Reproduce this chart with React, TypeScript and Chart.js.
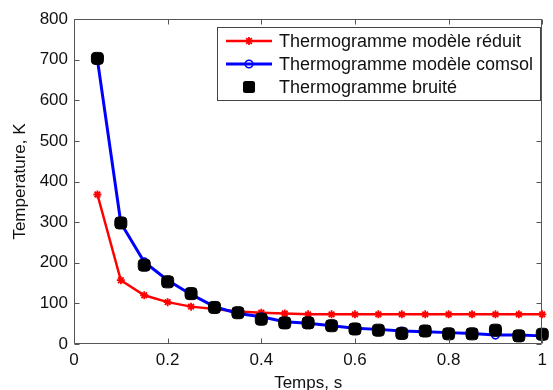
import React, { useEffect, useRef } from "react";
import { Chart, registerables } from "chart.js";

Chart.register(...registerables);

const times = [0.05, 0.1, 0.15, 0.2, 0.25, 0.3, 0.35, 0.4, 0.45, 0.5, 0.55, 0.6, 0.65, 0.7, 0.75, 0.8, 0.85, 0.9, 0.95, 1.0];
const reduit = [368, 157, 120, 103, 92, 86, 80, 77, 75, 73, 73, 73, 73, 73, 73, 73, 73, 73, 73, 73];
const comsol = [700, 298, 202, 157, 122, 92, 75, 67, 55, 51, 45, 39, 36, 32, 30, 28, 26, 22, 22, 20];
const bruite = [703, 298, 194, 153, 124, 90, 77, 61, 52, 52, 45, 37, 34, 26, 32, 25, 25, 34, 20, 24];
const xTicks = [0, 0.2, 0.4, 0.6, 0.8, 1];
const yTicks = [0, 100, 200, 300, 400, 500, 600, 700, 800];
const labels = ["Thermogramme modèle réduit", "Thermogramme modèle comsol", "Thermogramme bruité"];

const FONT = "'Liberation Sans', Arial, sans-serif";

const boxPlugin = {
  id: "boxTicks",
  afterDraw(chart: any) {
    const { ctx, chartArea: a, scales } = chart;
    const x = scales.x;
    const y = scales.y;
    ctx.save();
    ctx.strokeStyle = "#555";
    ctx.lineWidth = 1;
    const L = Math.round(a.left) + 0.5;
    const R = Math.round(a.right) - 0.5;
    const T = Math.round(a.top) + 0.5;
    const B = Math.round(a.bottom) - 0.5;
    ctx.beginPath();
    ctx.rect(L, T, R - L, B - T);
    const len = 5;
    xTicks.forEach((v) => {
      const px = Math.round(x.getPixelForValue(v)) + 0.5;
      ctx.moveTo(px, B);
      ctx.lineTo(px, B - len);
      ctx.moveTo(px, T);
      ctx.lineTo(px, T + len);
    });
    yTicks.forEach((v) => {
      const py = Math.round(y.getPixelForValue(v)) + 0.5;
      ctx.moveTo(L, py);
      ctx.lineTo(L + len, py);
      ctx.moveTo(R, py);
      ctx.lineTo(R - len, py);
    });
    ctx.stroke();
    ctx.restore();
  },
};

function drawMarker(ctx: CanvasRenderingContext2D, style: string, x: number, y: number, r: number) {
  ctx.beginPath();
  if (style === "star") {
    ctx.moveTo(x - r, y);
    ctx.lineTo(x + r, y);
    ctx.moveTo(x, y - r);
    ctx.lineTo(x, y + r);
    const d = r * 0.707;
    ctx.moveTo(x - d, y - d);
    ctx.lineTo(x + d, y + d);
    ctx.moveTo(x - d, y + d);
    ctx.lineTo(x + d, y - d);
    ctx.stroke();
  } else if (style === "circle") {
    ctx.arc(x, y, r, 0, Math.PI * 2);
    ctx.stroke();
  } else {
    const s = r * 0.86;
    const c = 2.5;
    (ctx as any).roundRect ? (ctx as any).roundRect(x - s, y - s, 2 * s, 2 * s, c) : ctx.rect(x - s, y - s, 2 * s, 2 * s);
    ctx.fill();
  }
}

const legendPlugin = {
  id: "customLegend",
  afterDraw(chart: any) {
    const { ctx } = chart;
    const bx = 217.5, by = 27.5, bw = 323, bh = 73;
    ctx.save();
    ctx.fillStyle = "#fff";
    ctx.fillRect(bx, by, bw, bh);
    ctx.strokeStyle = "#444";
    ctx.lineWidth = 1;
    ctx.strokeRect(bx, by, bw, bh);
    const rows = [41, 64, 87];
    const x0 = 226, x1 = 272, xm = 249;
    chart.data.datasets.forEach((ds: any, i: number) => {
      const yy = rows[i];
      if (ds.showLine !== false) {
        ctx.strokeStyle = ds.borderColor;
        ctx.lineWidth = ds.borderWidth;
        ctx.beginPath();
        ctx.moveTo(x0, yy);
        ctx.lineTo(x1, yy);
        ctx.stroke();
      }
      ctx.lineWidth = ds.pointBorderWidth;
      ctx.strokeStyle = ds.pointBorderColor;
      ctx.fillStyle = ds.pointBorderColor;
      drawMarker(ctx, ds.pointStyle, xm, yy, ds.pointRadius);
      ctx.fillStyle = "#111";
      ctx.font = `18px ${FONT}`;
      ctx.textBaseline = "middle";
      ctx.textAlign = "left";
      ctx.fillText(ds.label, 279, yy + 1);
    });
    ctx.restore();
  },
};

export default function App() {
  const ref = useRef<HTMLCanvasElement>(null);
  useEffect(() => {
    if (!ref.current) return;
    const mk = (arr: number[]) => times.map((t, i) => ({ x: t, y: arr[i] }));
    const chart = new Chart(ref.current, {
      type: "line",
      data: {
        datasets: [
          {
            label: labels[0],
            data: mk(reduit),
            borderColor: "#ff0000",
            borderWidth: 2.5,
            pointStyle: "star",
            pointRadius: 4,
            pointBorderWidth: 1.8,
            pointBorderColor: "#ff0000",
            pointBackgroundColor: "#ff0000",
            order: 3,
            clip: false,
          } as any,
          {
            label: labels[1],
            data: mk(comsol),
            borderColor: "#0000ff",
            borderWidth: 3,
            pointStyle: "circle",
            pointRadius: 3.8,
            pointBorderWidth: 1.6,
            pointBorderColor: "#0000ff",
            pointBackgroundColor: "rgba(0,0,0,0)",
            order: 2,
            clip: false,
          } as any,
          {
            label: labels[2],
            data: mk(bruite),
            showLine: false,
            borderColor: "#000",
            borderWidth: 0,
            pointStyle: "rectRounded",
            pointRadius: 7,
            pointBorderWidth: 1,
            pointBorderColor: "#000",
            pointBackgroundColor: "#000",
            order: 1,
            clip: false,
          } as any,
        ],
      },
      options: {
        animation: false,
        responsive: false,
        maintainAspectRatio: false,
        layout: { padding: { top: 19, right: 4, left: 0, bottom: 0 } },
        plugins: {
          legend: { display: false },
          tooltip: { enabled: false },
        },
        scales: {
          x: {
            type: "linear",
            min: 0,
            max: 1,
            grid: { display: false, drawTicks: false },
            border: { display: false },
            ticks: {
              stepSize: 0.2,
              padding: 6,
              color: "#111",
              font: { family: FONT, size: 17 },
              callback: (v: any) => String(Math.round(Number(v) * 10) / 10),
            },
            title: {
              display: true,
              text: "Temps, s",
              color: "#111",
              font: { family: FONT, size: 17 },
              padding: { top: 0, bottom: -4 },
            },
            afterFit: (s: any) => {
              s.height = 46;
            },
          },
          y: {
            min: 0,
            max: 800,
            grid: { display: false, drawTicks: false },
            border: { display: false },
            ticks: {
              stepSize: 100,
              padding: 6,
              color: "#111",
              font: { family: FONT, size: 17 },
            },
            title: {
              display: true,
              text: "Temperature, K",
              color: "#111",
              font: { family: FONT, size: 17 },
              padding: { top: 10, bottom: 0 },
            },
            afterFit: (s: any) => {
              s.width = 74;
            },
          },
        },
      } as any,
      plugins: [boxPlugin, legendPlugin],
    });
    return () => chart.destroy();
  }, []);
  return (
    <div style={{ position: "fixed", left: 0, top: 0, width: 553, height: 390, background: "#fff" }}>
      <canvas ref={ref} width={553} height={390} style={{ width: 553, height: 390, display: "block" }} />
    </div>
  );
}
